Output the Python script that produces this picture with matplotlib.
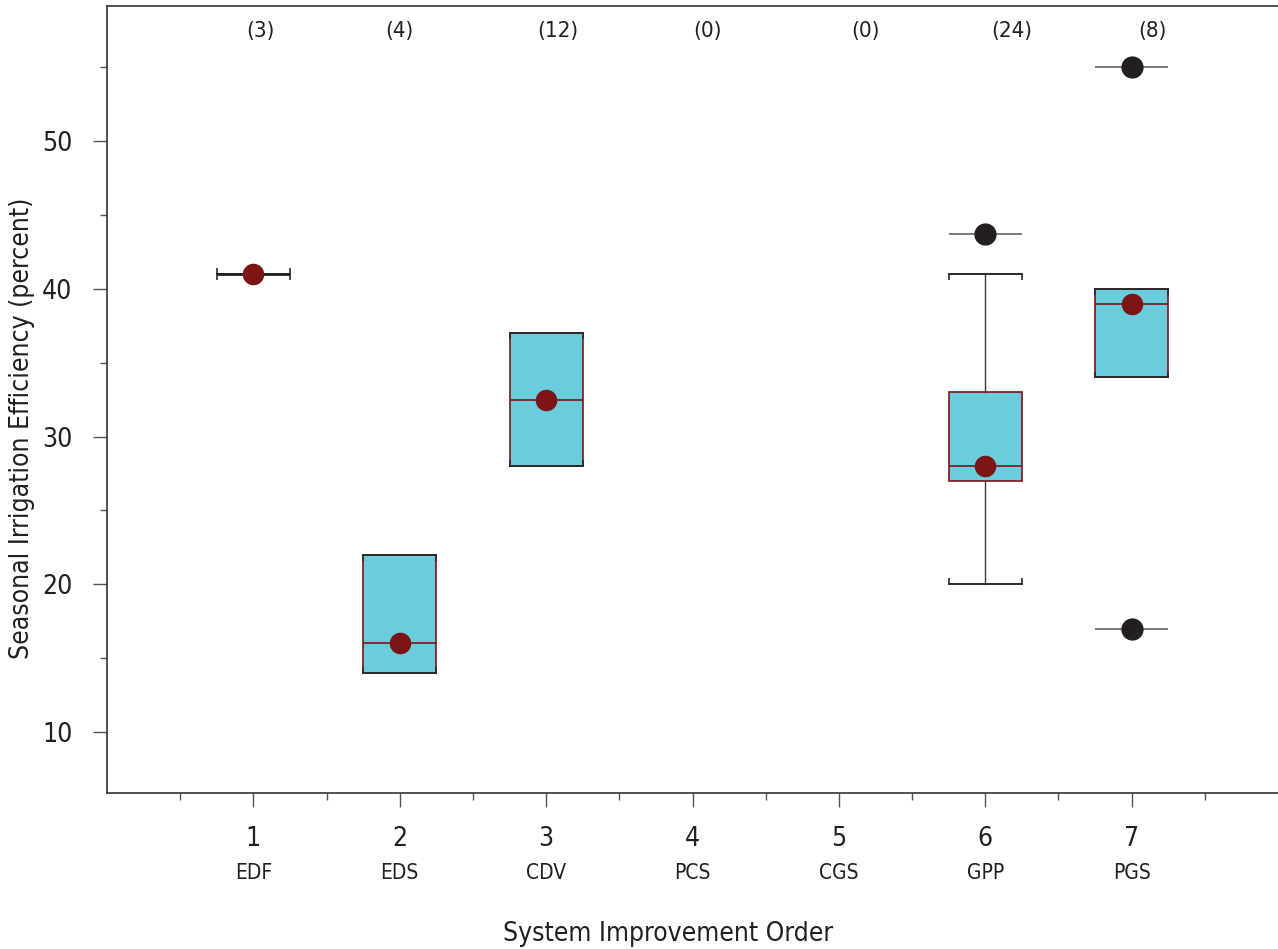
import numpy as np
import matplotlib
matplotlib.use("Agg")
import matplotlib.pyplot as plt
import matplotlib.transforms as mtransforms

plt.rcParams['font.family'] = ['Liberation Sans Narrow', 'DejaVu Sans Condensed', 'DejaVu Sans']
plt.rcParams['font.stretch'] = 'condensed'

# seasonal irrigation efficiency by system improvement order
order = [1, 2, 3, 4, 5, 6, 7]
codes = ["EDF", "EDS", "CDV", "PCS", "CGS", "GPP", "PGS"]
counts = [3, 4, 12, 0, 0, 24, 8]

box_pos = [1, 2, 3, 6, 7]
q1 = [41, 14, 28, 27, 34]
med = [41, 16, 32.5, 28, 39]
q3 = [41, 22, 37, 33, 40]
whis_lo = [41, 14, 28, 20, 34]
whis_hi = [41, 22, 37, 41, 40]
means = [41, 16, 32.5, 28, 39]
outliers = [[], [], [], [43.7], [55, 17]]

# x offsets of the count labels
count_shift = [0.05, 0.0, 0.08, 0.1, 0.18, 0.18, 0.14]

fill = "#6bccdb"
dred = "#7d1417"
dark = "#231f20"

fig = plt.figure(figsize=(12.78, 9.49), dpi=100)
ax = fig.add_axes([107 / 1278, 1 - 793 / 949, 1 - 107 / 1278, 787 / 949])

stats = []
for i in range(len(box_pos)):
    stats.append(dict(med=med[i], q1=q1[i], q3=q3[i], whislo=whis_lo[i],
                      whishi=whis_hi[i], mean=means[i], fliers=[]))

ax.bxp(stats, positions=box_pos, widths=0.5, patch_artist=True,
       showmeans=False, showfliers=False,
       boxprops=dict(facecolor=fill, edgecolor=dred, linewidth=1.2),
       medianprops=dict(color=dred, linewidth=1.2),
       whiskerprops=dict(color="#3a3a3a", linewidth=1.0),
       capprops=dict(color="#2a2a2a", linewidth=1.4, zorder=3),
       capwidths=0.5)

# single-value group drawn as a heavier bar
for p, lo, hi in zip(box_pos, q1, q3):
    if lo == hi:
        ax.hlines(lo, p - 0.25, p + 0.25, color=dark, lw=2.0, zorder=3)

# bracket ends on the caps
tick_h = 0.4
for p, lo, hi in zip(box_pos, whis_lo, whis_hi):
    ax.vlines([p - 0.25, p + 0.25], hi - tick_h, hi, color="#2a2a2a", lw=1.2, zorder=3)
    ax.vlines([p - 0.25, p + 0.25], lo, lo + tick_h, color="#2a2a2a", lw=1.2, zorder=3)

# outliers with their reference bars
for p, vals in zip(box_pos, outliers):
    for v in vals:
        ax.hlines(v, p - 0.25, p + 0.25, color="#6e6e6e", lw=1.3, zorder=3)
        ax.plot(p, v, "o", color=dark, ms=15, zorder=4)

ax.plot(box_pos, means, "o", color=dred, ms=14.5, ls="none", zorder=5)

ax.set_xlim(0, 8)
ax.set_ylim(5.87, 59.14)
ax.set_xticks(order)
ax.set_xticklabels([str(o) for o in order])
ax.set_xticks(np.arange(0.5, 8, 1.0), minor=True)
ax.set_yticks([10, 20, 30, 40, 50])
ax.set_yticks([15, 25, 35, 45, 55], minor=True)

ax.tick_params(axis="both", which="major", length=10, width=1.0,
               color="#555555", labelsize=19, labelcolor="#231f20")
ax.tick_params(axis="both", which="minor", length=5, width=1.0,
               color="#555555")
ax.tick_params(axis="x", which="major", pad=14)
ax.tick_params(axis="y", which="major", pad=15)

for s in ["left", "top", "bottom"]:
    ax.spines[s].set_color("#333333")
    ax.spines[s].set_linewidth(1.2)
ax.spines["right"].set_visible(False)

trans = mtransforms.blended_transform_factory(ax.transData, fig.transFigure)
for o, c in zip(order, codes):
    ax.text(o, 1 - 873 / 949, c, transform=trans, ha="center", va="center",
            fontsize=15, color="#231f20")
for o, n, d in zip(order, counts, count_shift):
    ax.text(o + d, 1 - 31 / 949, "(%d)" % n, transform=trans, ha="center",
            va="center", fontsize=16, color="#231f20")

fig.text(668 / 1278, 1 - 934 / 949, "System Improvement Order", ha="center",
         va="center", fontsize=19, color="#231f20")
fig.text(22 / 1278, 1 - 428 / 949, "Seasonal Irrigation Efficiency (percent)",
         ha="center", va="center", rotation=90, fontsize=19, color="#231f20")

fig.savefig("out.png", dpi=100)
